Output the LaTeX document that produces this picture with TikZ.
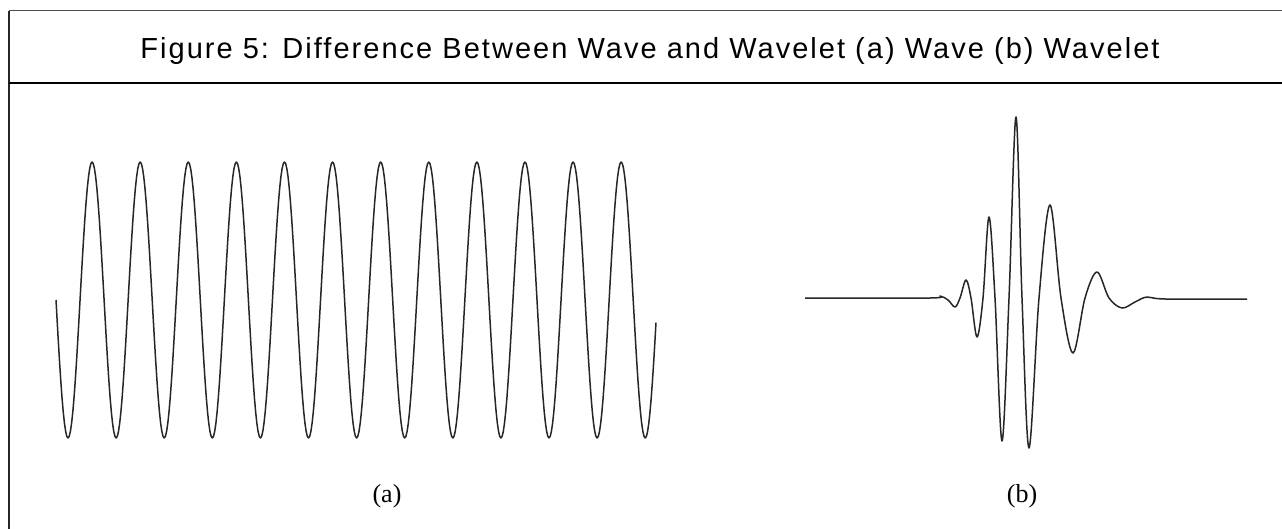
\documentclass[tikz,border=0pt]{standalone}
\usepackage{fontspec}
\setmainfont{Liberation Serif}
\newfontfamily\titlefont[LetterSpace=7]{Liberation Sans}
\usepackage{tikz}

\begin{document}
\begin{tikzpicture}[x=1pt, y=-1pt,
	curve/.style={line width=1.5pt, black!85, line join=round},
	every node/.style={inner sep=0pt}]
	\useasboundingbox (0,0) rectangle (1282,529);
	% frame
	\draw[line width=1pt, black!70] (9,11) -- (1282,11);
	\draw[line width=1.6pt, black!85] (9,11) -- (9,529);
	\draw[line width=2.5pt] (9,83) -- (1282,83);
	\node[font=\titlefont\fontsize{29}{34}\selectfont, anchor=base] (title) at (650,59)
		{Figure 5: Difference Between Wave and Wavelet (a) Wave (b) Wavelet};
	% (a) wave
	\draw[curve] plot[domain=56:656, samples=500, variable=\x]
		(\x, {300+138*sin((\x-56)/48.1*360)});
	% (b) wavelet
	\draw[curve] plot[smooth, tension=0.55] coordinates {
		(805,298) (930,298) (940,296) (948,300) (955,307) (960,298)
		(966,280) (971,298) (977,337) (983,298) (989,217) (995,298)
		(1002,441) (1009,298) (1016,117) (1022,298) (1029,448) (1039,298)
		(1050,205) (1061,298) (1073,353) (1085,298) (1097,272) (1109,298)
		(1122,308) (1135,302) (1147,297) (1165,299) (1247,299)};
	% labels
	\node[font=\fontsize{26}{30}\selectfont] (lbla) at (387,496) {(a)};
	\node[font=\fontsize{26}{30}\selectfont] (lblb) at (1022,496) {(b)};
\end{tikzpicture}
\end{document}
